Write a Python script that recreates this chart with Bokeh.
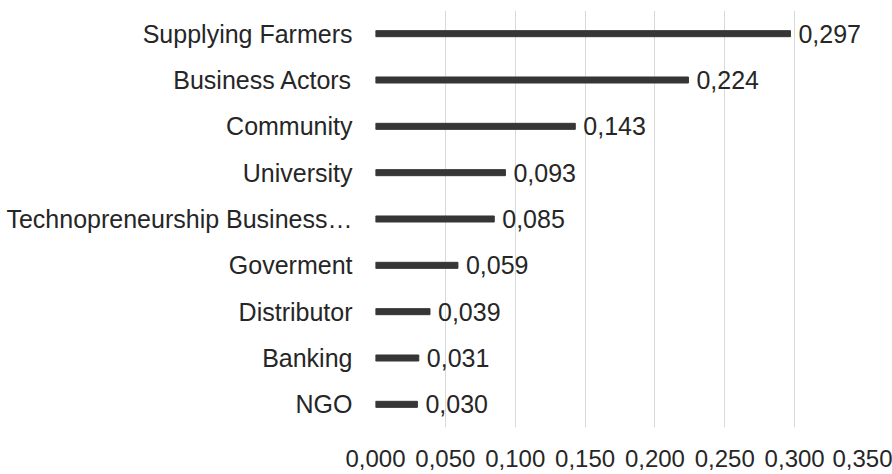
from bokeh.plotting import figure
from bokeh.models import ColumnDataSource, FixedTicker, CustomJSTickFormatter, LabelSet
from bokeh.core.properties import value
from bokeh.embed import file_html
from bokeh.resources import INLINE

categories = ["Supplying Farmers", "Business Actors", "Community", "University",
              "Technopreneurship Business…", "Goverment", "Distributor", "Banking", "NGO"]
values = [0.297, 0.224, 0.143, 0.093, 0.085, 0.059, 0.039, 0.031, 0.030]
value_labels = ["0,297", "0,224", "0,143", "0,093", "0,085", "0,059", "0,039", "0,031", "0,030"]
x_ticks = [0.0, 0.05, 0.10, 0.15, 0.20, 0.25, 0.30, 0.35]

src = ColumnDataSource(dict(cat=categories, val=values, lab=value_labels))

p = figure(width=892, height=474, y_range=list(reversed(categories)), x_range=(0, 0.35),
           output_backend="svg", toolbar_location=None,
           min_border_left=375, min_border_right=28, min_border_top=10, min_border_bottom=47)
p.outline_line_color = None
p.background_fill_color = "white"
p.border_fill_color = "white"

p.hbar(y="cat", right="val", left=0, height=0.13, source=src, color="#363636")

labels = LabelSet(x="val", y="cat", text="lab", source=src, x_offset=8, y_offset=0,
                  text_baseline="middle", text_font=value("Liberation Sans"),
                  text_font_size="25px", text_color="#262626")
p.add_layout(labels)

p.ygrid.grid_line_color = None
p.xgrid.grid_line_color = "#d9d9d9"
p.xgrid.grid_line_width = 1

p.xaxis.ticker = FixedTicker(ticks=x_ticks)
p.xaxis.formatter = CustomJSTickFormatter(code="return tick.toFixed(3).replace('.', ',');")
for ax in (p.xaxis[0], p.yaxis[0]):
    ax.axis_line_color = None
    ax.major_tick_line_color = None
    ax.minor_tick_line_color = None
    ax.major_label_text_font = "Liberation Sans"
    ax.major_label_text_color = "#262626"
p.xaxis.major_label_text_font_size = "24px"
p.yaxis.major_label_text_font_size = "25px"
p.xaxis.major_label_standoff = 16
p.yaxis.major_label_standoff = 17

open("out.html", "w").write(file_html(p, INLINE))
